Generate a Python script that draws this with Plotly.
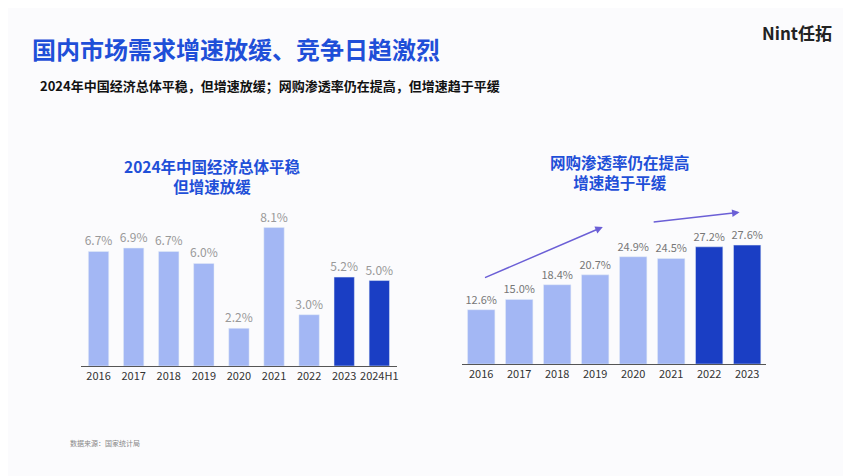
import plotly.graph_objects as go

gdp_years = ["2016", "2017", "2018", "2019", "2020", "2021", "2022", "2023", "2024H1"]
gdp_growth = [6.7, 6.9, 6.7, 6.0, 2.2, 8.1, 3.0, 5.2, 5.0]
web_years = ["2016", "2017", "2018", "2019", "2020", "2021", "2022", "2023"]
web_rate = [12.6, 15.0, 18.4, 20.7, 24.9, 24.5, 27.2, 27.6]

LIGHT = "#a3b7f4"
DARK = "#1a3ec4"
BLUE = "#1f4fd8"
FONT = "Noto Sans CJK SC"


def colors(n, dark_from):
    return [DARK if i >= dark_from else LIGHT for i in range(n)]


fig = go.Figure()
fig.add_trace(go.Bar(
    x=gdp_years, y=gdp_growth, marker_color=colors(len(gdp_years), 7),
    text=[f"{v:.1f}%" for v in gdp_growth], textposition="outside",
    constraintext="none",
    textfont=dict(color="#999999", size=12), cliponaxis=False, width=0.58,
    xaxis="x", yaxis="y",
))
fig.add_trace(go.Bar(
    x=web_years, y=web_rate, marker_color=colors(len(web_years), 6),
    text=[f"{v:.1f}%" for v in web_rate], textposition="outside",
    constraintext="none",
    textfont=dict(color="#777777", size=11), cliponaxis=False, width=0.72,
    xaxis="x2", yaxis="y2",
))

axis_x = dict(showline=True, linecolor="#555555", linewidth=1, ticks="",
              tickangle=0, tickfont=dict(size=11, color="#333333"),
              showgrid=False)
axis_y = dict(visible=False, showgrid=False)

fig.update_layout(
    width=851, height=476, margin=dict(l=0, r=0, t=0, b=0),
    paper_bgcolor="#fbfbfd", plot_bgcolor="rgba(0,0,0,0)",
    font=dict(family=FONT), showlegend=False,
    uniformtext=dict(mode=False),
    xaxis=dict(domain=[0.086, 0.458], anchor="y", **axis_x),
    yaxis=dict(domain=[0.248, 0.571], range=[0, 9], **axis_y),
    xaxis2=dict(domain=[0.535, 0.893], anchor="y2", **axis_x),
    yaxis2=dict(domain=[0.252, 0.578], range=[0, 36], **axis_y),
)

fig.add_annotation(x=3.2, y=31.8, ax=0.06, ay=19.9, xref="x2", yref="y2",
                   axref="x2", ayref="y2", showarrow=True, arrowhead=2,
                   arrowsize=1, arrowwidth=1.5, arrowcolor="#6b5fd6", text="")
fig.add_annotation(x=6.8, y=35.2, ax=4.5, ay=32.9, xref="x2", yref="y2",
                   axref="x2", ayref="y2", showarrow=True, arrowhead=2,
                   arrowsize=1, arrowwidth=1.5, arrowcolor="#6b5fd6", text="")

texts = [
    (22, 40, "国内市场需求增速放缓、竞争日趋激烈", 24, BLUE, "left"),
    (30, 78, "2024年中国经济总体平稳，但增速放缓；网购渗透率仍在提高，但增速趋于平缓", 13, "#111111", "left"),
    (205, 168, "2024年中国经济总体平稳<br>但增速放缓", 15.5, BLUE, "center"),
    (613, 164, "网购渗透率仍在提高<br>增速趋于平缓", 15.5, BLUE, "center"),
    (60, 435, "数据来源：国家统计局", 7, "#888888", "left"),
    (828, 24, "Nint任拓", 17, "#222222", "right"),
]
for x, y, t, s, c, al in texts:
    fig.add_annotation(x=x / 851, y=1 - y / 476, xref="paper", yref="paper",
                       text=f"<b>{t}</b>" if s > 8 else t, showarrow=False,
                       xanchor=al, yanchor="middle", align="center",
                       font=dict(size=s, color=c, family=FONT))

fig.write_html("out.html")
